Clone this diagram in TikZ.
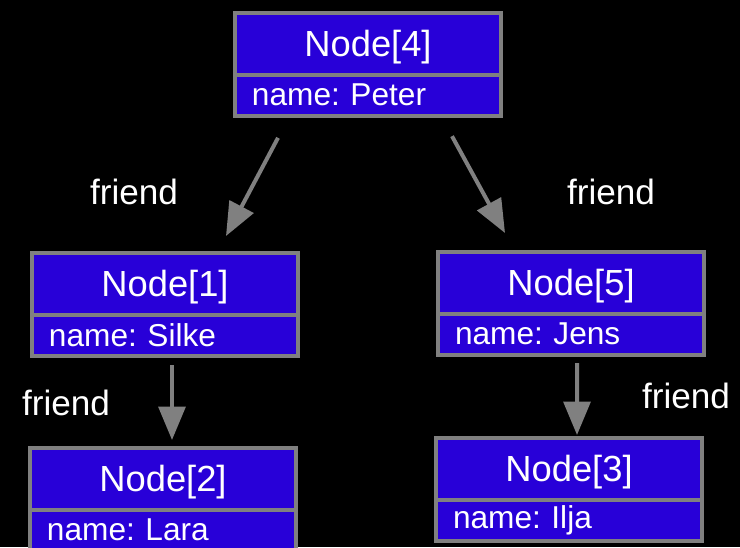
\documentclass[tikz,border=0pt]{standalone}
\usepackage{fontspec}
\setmainfont{Liberation Sans}
\usetikzlibrary{arrows.meta, positioning}
\definecolor{nodeblue}{HTML}{2800D8}
\definecolor{framegray}{HTML}{808080}

\begin{document}
\begin{tikzpicture}[x=0.03cm, y=-0.03cm,
  titlebox/.style={rectangle, draw=framegray, fill=nodeblue, line width=0.12cm, outer sep=0pt, minimum width=7.98cm, minimum height=1.86cm, text height=22pt, text depth=0pt, text=white, font=\fontsize{31}{36}\selectfont},
  namebox/.style={rectangle, draw=framegray, fill=nodeblue, line width=0.12cm, outer sep=0pt, minimum width=7.98cm, minimum height=1.215cm, text width=6.96cm, inner xsep=0.51cm, inner ysep=0pt, align=left, text=white, font=\fontsize{27}{30}\selectfont\frenchspacing},
  friendlabel/.style={text=white, font=\fontsize{30}{34}\selectfont},
  link/.style={draw=framegray, line width=0.12cm, -{Triangle[length=1cm, width=0.8cm]}}]
% Background and page size
\useasboundingbox (0,0) rectangle (740,547);
\fill[black] (0,0) rectangle (740,547);

% Root object
\node[titlebox] (n4) at (368,44) {Node[4]};
\node[namebox, below=0pt of n4] (n4name) {name: Peter};

% Second level
\node[titlebox] (n1) at (165,284) {Node[1]};
\node[namebox, below=0pt of n1] (n1name) {name: Silke};
\node[titlebox] (n5) at (571,283) {Node[5]};
\node[namebox, below=0pt of n5] (n5name) {name: Jens};

% Third level
\node[titlebox] (n2) at (163,479) {Node[2]};
\node[namebox, below=0pt of n2] (n2name) {name: Lara};
\node[titlebox] (n3) at (569,469) {Node[3]};
\node[namebox, below=0pt of n3] (n3name) {name: Ilja};

% Labels
\node[friendlabel] (f41) at (134,192) {friend};
\node[friendlabel] (f45) at (611,192) {friend};
\node[friendlabel] (f12) at (66,403) {friend};
\node[friendlabel] (f53) at (686,396) {friend};

% Draw connections
\draw[link] ([xshift=-2.7cm, yshift=-0.67cm]n4name.south) -- ([xshift=1.83cm, yshift=0.51cm]n1.north);
\draw[link] ([xshift=2.52cm, yshift=-0.62cm]n4name.south) -- ([xshift=-1.98cm, yshift=0.57cm]n5.north);
\draw[link] ([xshift=0.21cm, yshift=-0.29cm]n1name.south) -- ([xshift=0.27cm, yshift=0.24cm]n2.north);
\draw[link] ([xshift=0.18cm, yshift=-0.26cm]n5name.south) -- ([xshift=0.24cm, yshift=0.09cm]n3.north);
\end{tikzpicture}
\end{document}
